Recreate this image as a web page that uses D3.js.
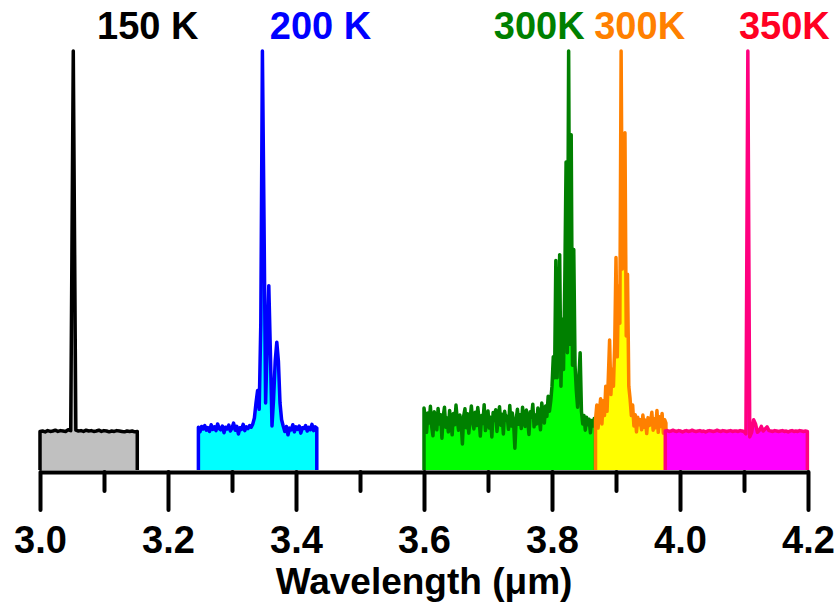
<!DOCTYPE html>
<html lang="en">
<head>
<meta charset="utf-8">
<title>Spectra by temperature</title>
<script src="https://cdn.jsdelivr.net/npm/d3@7"></script>
<style>
  html, body { margin: 0; padding: 0; background: #fff; }
  svg { display: block; }
  text { font-family: "Liberation Sans", Arial, sans-serif; font-weight: bold; }
</style>
</head>
<body>
<div id="chart"></div>
<script>
// x axis ticks
var majorTicks = [3.0, 3.2, 3.4, 3.6, 3.8, 4.0, 4.2];
var minorTicks = [3.1, 3.3, 3.5, 3.7, 3.9, 4.1];

// labels above each spectrum
var labels = ["150 K", "200 K", "300K", "300K", "350K"];

// spectra: start wavelength (um), grid step (um), intensities (% of max)
var start150 = 3.000, step150 = 0.004;
var int150 = [9.2, 9.3, 9.1, 9.4, 9.2, 9.3, 9.5, 9.2, 9.4, 9.3, 9.2, 9.6, 9.4, 100, 9.5, 9.3, 9.4, 9.2, 9.5, 9.3,
              9.4, 9.2, 9.3, 9.5, 9.2, 9.4, 9.3, 9.1, 9.3, 9.2, 9.4, 9.3, 9.2, 9.1, 9.3, 9.2, 9.3, 9.1, 9.2];

var start200 = 3.2475, step200 = 0.0025;
var int200 = [10.2, 9.1, 10.4, 9.8, 10.6, 9.5, 10.1, 9.2, 10.8, 9.7, 10.3, 9.4, 11.0, 9.9, 9.6, 10.5, 8.9, 10.2,
              9.8, 10.7, 9.3, 10.0, 11.2, 9.5, 10.4, 8.6, 10.1, 9.7, 10.9, 9.4, 10.3, 9.9, 10.6, 10.2, 11.0, 12.4,
              16, 19, 14.5, 35, 100, 60, 16, 30, 44, 28, 10.5, 17, 26, 30.5, 26, 16, 12, 10.5,
              9.2, 10.4, 8.4, 10.0, 9.6, 10.8, 9.1, 10.3, 9.7, 10.5, 8.8, 10.1, 9.9, 10.6, 9.3, 10.2, 9.6,
              10.9, 9.4, 10.3, 10.0];

var start300a = 3.600, step300a = 0.002;
var int300a = [14.8, 12.5, 9.0, 13.6, 11.2, 15.2, 10.4, 8.2, 13.9, 12.1,
               9.6, 14.7, 11.0, 13.2, 7.6, 12.8, 15.0, 10.2, 12.4, 9.1,
               14.2, 11.6, 8.4, 13.5, 10.8, 15.5, 12.0, 9.5, 13.1, 11.4,
               6.2, 12.9, 14.6, 10.1, 13.4, 8.8, 12.2, 15.3, 11.5, 9.8,
               13.8, 10.6, 14.9, 12.3, 8.1, 13.0, 11.1, 15.6, 9.4, 12.7,
               14.1, 10.0, 12.6, 7.9, 13.7, 11.8, 14.4, 9.2, 12.5, 15.1,
               10.7, 13.3, 8.6, 14.0, 11.9, 12.8, 9.7, 15.4, 10.5, 13.6,
               11.3, 5.2, 12.0, 14.5, 10.9, 13.2, 9.9, 15.0, 12.2, 10.4,
               14.3, 11.7, 8.5, 13.9, 12.6, 15.7, 10.3, 13.1, 11.0, 14.8,
               12.4, 9.6, 16.0, 13.5, 11.2, 15.3, 12.8, 17.6, 14.0, 16.4,
               20, 27, 22, 50, 22, 35, 51.4, 20, 36, 24,
               45, 73.5, 28, 100, 30, 80, 25, 52.6, 25, 19,
               15, 22, 28, 14, 11, 13, 9.5, 12.6, 10.8, 12.1,
               8.9, 11.8, 10.5, 12.3, 11.0];

var start300b = 3.868, step300b = 0.002;
var int300b = [12, 15.5, 10, 14, 17, 11, 16.5, 13, 20, 14,
               22, 31, 18, 24, 20, 30, 50.7, 27, 44, 35,
               100, 48, 60, 80.5, 32, 46.7, 20, 17, 13, 15.5,
               10.5, 13.2, 9.1, 12.6, 10.8, 12.0, 9.6, 13.1, 10.2, 11.9,
               8.7, 12.5, 10.6, 11.4, 13.8, 9.5, 12.2, 10.1, 14.2, 9.0,
               12.7, 10.4, 13.5, 8.8, 12.0, 11.2];

var start350 = 3.977, step350 = 0.003;
var int350 = [9.3, 9.4, 9.2, 9.3, 9.5, 9.3, 9.2, 9.4, 9.3, 9.1, 9.3, 9.4, 9.2, 9.3, 9.5, 9.3, 9.2, 9.3, 9.4, 9.2,
              9.3, 9.1, 9.3, 9.4, 9.3, 9.2, 9.3, 9.5, 9.3, 9.2, 9.4, 9.3, 9.2, 9.3, 9.4, 9.2, 9.3, 9.3, 9.2, 9.4,
              9.3, 9.2, 8.6, 100, 7.9, 9.0, 12.0, 11.0, 9.0, 9.5, 10.4, 9.3, 9.8, 10.3, 9.4,
              9.3, 9.2, 9.4, 9.3, 9.2, 9.3, 9.4, 9.2, 9.3, 9.1, 9.3, 9.4, 9.2, 9.3, 9.2, 9.4, 9.3, 9.2, 9.3, 9.2];

// table used for drawing
var spectra = [
  {start: start150, step: step150, values: int150, stroke: "#000000", fill: "#c0c0c0", label: labels[0], color: "#000000", lx: 3.0891},
  {start: start200, step: step200, values: int200, stroke: "#0000ff", fill: "#00ffff", label: labels[1], color: "#0000ff", lx: 3.359},
  {start: start300a, step: step300a, values: int300a, stroke: "#008000", fill: "#00ff00", label: labels[2], color: "#008000", lx: 3.709},
  {start: start300b, step: step300b, values: int300b, stroke: "#ff8000", fill: "#ffff00", label: labels[3], color: "#ff8000", lx: 3.866},
  {start: start350, step: step350, values: int350, stroke: "#ff0080", fill: "#ff00ff", label: labels[4], color: "#ff0022", lx: 4.092}
];

var w = 837, h = 605;

var xScale = d3.scaleLinear().domain([3.0, 4.2]).range([40, 808]);
var yScale = d3.scaleLinear().domain([0, 100]).range([470, 51]);

var svg = d3.select("#chart")
  .append("svg")
  .attr("width", w)
  .attr("height", h);

var area = d3.area()
  .x(function(d) { return xScale(d[0]); })
  .y0(yScale(0))
  .y1(function(d) { return yScale(d[1]); });

var line = d3.line()
  .x(function(d) { return xScale(d[0]); })
  .y(function(d) { return yScale(d[1]); });

spectra.forEach(function(s) {
  var pts = s.values.map(function(v, i) { return [s.start + i * s.step, v]; });
  var end = pts[pts.length - 1][0];
  pts.unshift([s.start, 0]);
  pts.push([end, 0]);

  svg.append("path")
    .attr("d", area(pts))
    .attr("fill", s.fill);

  svg.append("path")
    .attr("d", line(pts))
    .attr("fill", "none")
    .attr("stroke", s.stroke)
    .attr("stroke-width", 3.5)
    .attr("stroke-linejoin", "round");
});

// labels
svg.selectAll(".peak-label")
  .data(spectra)
  .enter()
  .append("text")
  .attr("class", "peak-label")
  .attr("x", function(d) { return xScale(d.lx); })
  .attr("y", 39)
  .attr("font-size", "38px")
  .attr("fill", function(d) { return d.color; })
  .text(function(d) { return d.label; });

// x axis
var axisY = 472;

var minorAxis = svg.append("g")
  .attr("transform", "translate(0," + axisY + ")")
  .call(d3.axisBottom(xScale).tickValues(minorTicks).tickSize(19).tickSizeOuter(0).tickFormat(""));
minorAxis.select(".domain").remove();

var majorAxis = svg.append("g")
  .attr("transform", "translate(0," + axisY + ")")
  .call(d3.axisBottom(xScale)
    .tickValues(majorTicks)
    .tickSize(38)
    .tickSizeOuter(0)
    .tickPadding(16)
    .tickFormat(d3.format(".1f")));

svg.selectAll(".tick line")
  .attr("stroke", "#000")
  .attr("stroke-width", 4)
  .attr("stroke-linecap", "round");

majorAxis.select(".domain")
  .attr("stroke", "#000")
  .attr("stroke-width", 4);

majorAxis.selectAll("text")
  .attr("font-family", "'Liberation Sans', Arial, sans-serif")
  .attr("font-weight", "bold")
  .attr("font-size", "38px")
  .attr("fill", "#000");

svg.append("text")
  .attr("x", xScale(3.6))
  .attr("y", 594)
  .attr("text-anchor", "middle")
  .attr("font-size", "37px")
  .text("Wavelength (\u03bcm)");
</script>
</body>
</html>
